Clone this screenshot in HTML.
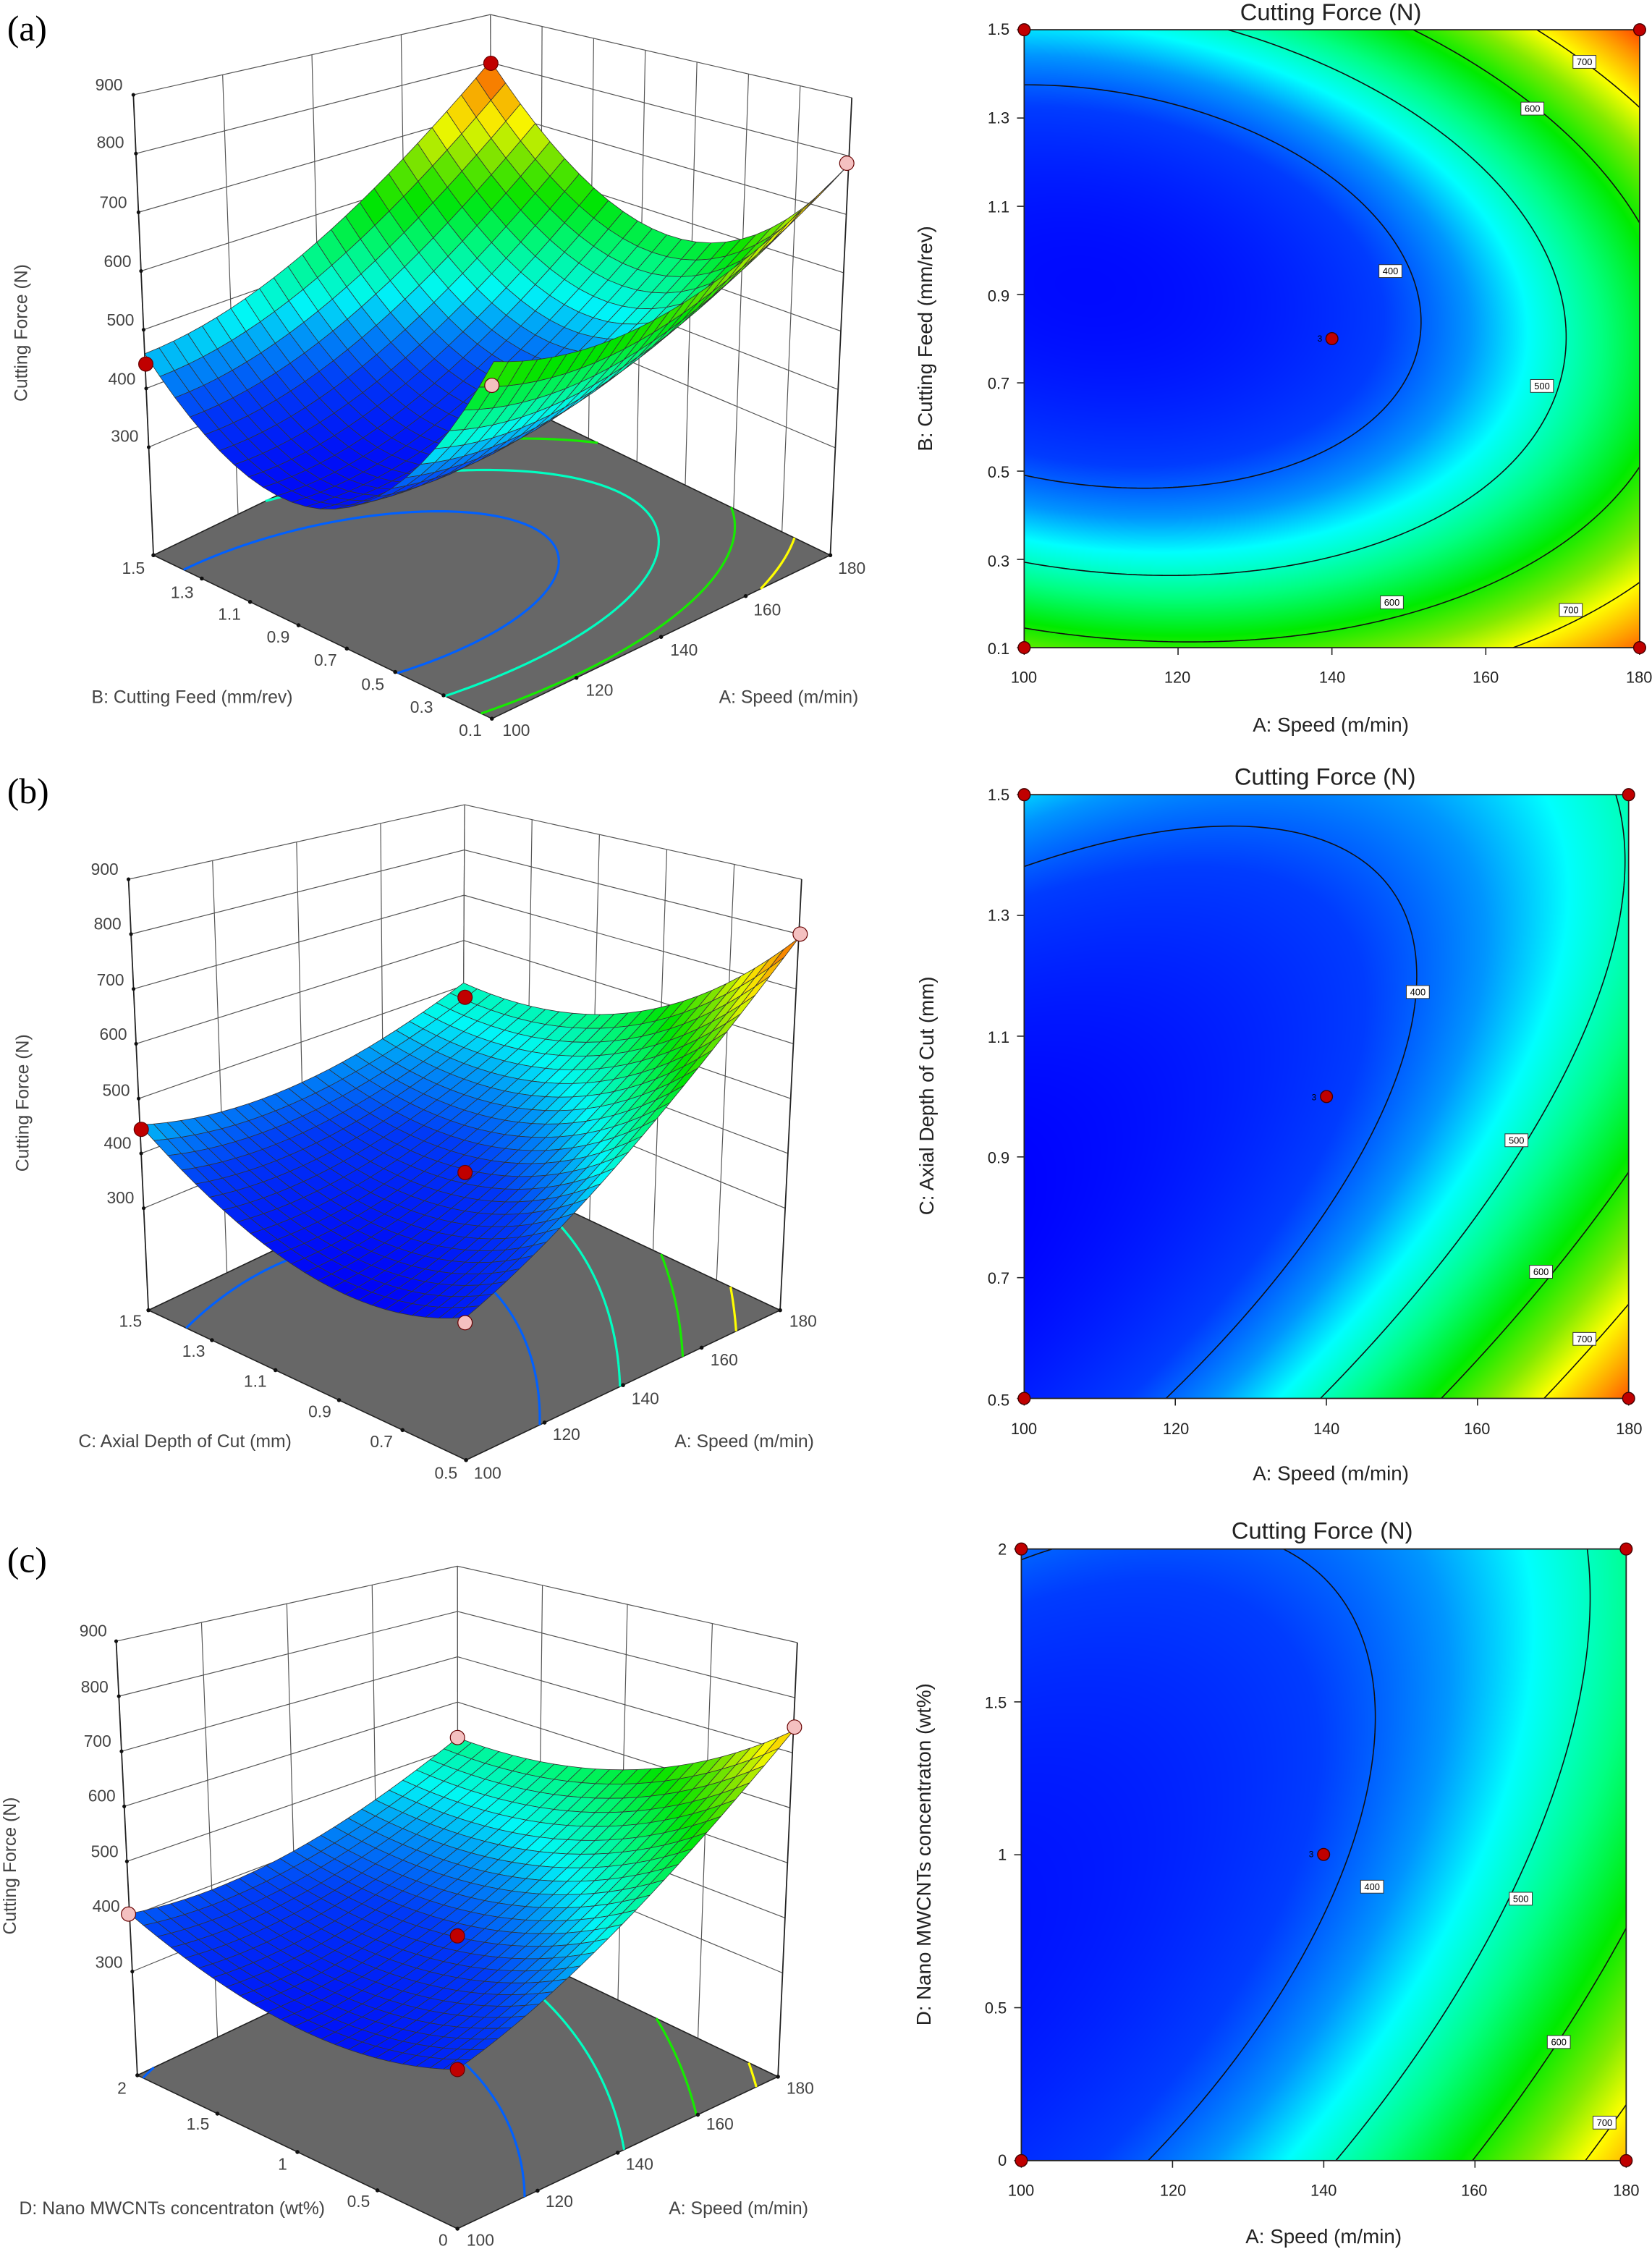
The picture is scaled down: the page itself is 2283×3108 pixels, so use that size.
<!DOCTYPE html>
<html><head><meta charset="utf-8">
<style>
html,body{margin:0;padding:0;background:#fff;}
#wrap{position:relative;width:2283px;height:3108px;overflow:hidden;background:#fff;}
canvas{position:absolute;}
svg{position:absolute;left:0;top:0;}
text{font-family:"Liberation Sans",sans-serif;}
</style></head>
<body><div id="wrap">
<canvas id="ca"></canvas><canvas id="cb"></canvas><canvas id="cc"></canvas>
<svg id="sv" width="2283" height="3108" viewBox="0 0 1152 1568" xmlns="http://www.w3.org/2000/svg">
<g id="g3a"></g><g id="g3b"></g><g id="g3c"></g>
<g id="g2a"></g><g id="g2b"></g><g id="g2c"></g>

<g font-family="Liberation Serif" font-size="25" fill="#000">
<text x="5" y="28" style="font-family:'Liberation Serif',serif">(a)</text>
<text x="5" y="560" style="font-family:'Liberation Serif',serif">(b)</text>
<text x="5" y="1096" style="font-family:'Liberation Serif',serif">(c)</text>
</g>

<g fill="#444" font-size="11.5">
<g text-anchor="middle">
<text x="76" y="63">900</text><text x="77" y="103">800</text><text x="79" y="145">700</text><text x="82" y="186">600</text><text x="84" y="227">500</text><text x="85" y="268">400</text><text x="87" y="308">300</text>
<text x="93" y="400">1.5</text><text x="127" y="417">1.3</text><text x="160" y="432">1.1</text><text x="194" y="448">0.9</text><text x="227" y="464">0.7</text><text x="260" y="481">0.5</text><text x="294" y="497">0.3</text><text x="328" y="513">0.1</text>
<text x="360" y="513">100</text><text x="418" y="485">120</text><text x="477" y="457">140</text><text x="535" y="429">160</text><text x="594" y="400">180</text>
<text x="134" y="490" font-size="12.5">B: Cutting Feed (mm/rev)</text>
<text x="550" y="490" font-size="12.5">A: Speed (m/min)</text>
<text transform="translate(19,232) rotate(-90)" font-size="12.5">Cutting Force (N)</text>
</g></g>

<g fill="#444" font-size="11.5" text-anchor="middle">
<text x="73" y="610">900</text><text x="75" y="648">800</text><text x="77" y="687">700</text><text x="79" y="725">600</text><text x="81" y="764">500</text><text x="82" y="801">400</text><text x="84" y="839">300</text>
<text x="91" y="925">1.5</text><text x="135" y="946">1.3</text><text x="178" y="967">1.1</text><text x="223" y="988">0.9</text><text x="266" y="1009">0.7</text><text x="311" y="1031">0.5</text>
<text x="340" y="1031">100</text><text x="395" y="1004">120</text><text x="450" y="979">140</text><text x="505" y="952">160</text><text x="560" y="925">180</text>
<text x="129" y="1009" font-size="12.5">C: Axial Depth of Cut (mm)</text>
<text x="519" y="1009" font-size="12.5">A: Speed (m/min)</text>
<text transform="translate(20,769) rotate(-90)" font-size="12.5">Cutting Force (N)</text>
</g>

<g fill="#444" font-size="11.5" text-anchor="middle">
<text x="65" y="1141">900</text><text x="66" y="1180">800</text><text x="68" y="1218">700</text><text x="71" y="1256">600</text><text x="73" y="1295">500</text><text x="74" y="1333">400</text><text x="76" y="1372">300</text>
<text x="85" y="1460">2</text><text x="138" y="1485">1.5</text><text x="197" y="1513">1</text><text x="250" y="1539">0.5</text><text x="309" y="1566">0</text>
<text x="335" y="1566">100</text><text x="390" y="1539">120</text><text x="446" y="1513">140</text><text x="502" y="1485">160</text><text x="558" y="1460">180</text>
<text x="120" y="1544" font-size="12.5">D: Nano MWCNTs concentraton (wt%)</text>
<text x="515" y="1544" font-size="12.5">A: Speed (m/min)</text>
<text transform="translate(11,1301) rotate(-90)" font-size="12.5">Cutting Force (N)</text>
</g>

<g fill="#222" text-anchor="middle">
<text x="928" y="14" font-size="16.5">Cutting Force (N)</text>
<text x="924" y="547" font-size="16.5">Cutting Force (N)</text>
<text x="922" y="1073" font-size="16.5">Cutting Force (N)</text>
<text x="928" y="510" font-size="14">A: Speed (m/min)</text>
<text x="928" y="1032" font-size="14">A: Speed (m/min)</text>
<text x="923" y="1564" font-size="14">A: Speed (m/min)</text>
<text transform="translate(650,236) rotate(-90)" font-size="14">B: Cutting Feed (mm/rev)</text>
<text transform="translate(651,764) rotate(-90)" font-size="14">C: Axial Depth of Cut (mm)</text>
<text transform="translate(649,1293) rotate(-90)" font-size="14">D: Nano MWCNTs concentraton (wt%)</text>
</g>
<g fill="#222" font-size="11">
<g text-anchor="end">
<text x="704" y="24">1.5</text><text x="704" y="86">1.3</text><text x="704" y="148">1.1</text><text x="704" y="210">0.9</text><text x="704" y="271">0.7</text><text x="704" y="333">0.5</text><text x="704" y="395">0.3</text><text x="704" y="456">0.1</text>
<text x="704" y="558">1.5</text><text x="704" y="642">1.3</text><text x="704" y="727">1.1</text><text x="704" y="811">0.9</text><text x="704" y="895">0.7</text><text x="704" y="980">0.5</text>
<text x="702" y="1084">2</text><text x="702" y="1191">1.5</text><text x="702" y="1297">1</text><text x="702" y="1404">0.5</text><text x="702" y="1510">0</text>
</g>
<g text-anchor="middle">
<text x="714" y="476">100</text><text x="821" y="476">120</text><text x="929" y="476">140</text><text x="1036" y="476">160</text><text x="1143" y="476">180</text>
<text x="714" y="1000">100</text><text x="820" y="1000">120</text><text x="925" y="1000">140</text><text x="1030" y="1000">160</text><text x="1136" y="1000">180</text>
<text x="712" y="1531">100</text><text x="818" y="1531">120</text><text x="923" y="1531">140</text><text x="1028" y="1531">160</text><text x="1134" y="1531">180</text>
</g></g>

<g font-size="6.5" text-anchor="middle" fill="#000">
<g id="lbls"></g>
</g>

<g stroke="#600" stroke-width="0.6">
<circle cx="101.7" cy="253.7" r="5" fill="#c00000"/><circle cx="342.3" cy="44" r="5" fill="#c00000"/>
<circle cx="590.5" cy="113.7" r="5" fill="#f4c0c0"/><circle cx="343" cy="268.6" r="5" fill="#f4c0c0"/>
<circle cx="98.5" cy="787.4" r="5" fill="#c00000"/><circle cx="324.3" cy="695.3" r="5" fill="#c00000"/>
<circle cx="324.3" cy="817.5" r="5" fill="#c00000"/><circle cx="558" cy="651.2" r="5" fill="#f4c0c0"/>
<circle cx="324.3" cy="922.2" r="5" fill="#f4c0c0"/>
<circle cx="89.6" cy="1334.6" r="5" fill="#f4c0c0"/><circle cx="319" cy="1211.5" r="5" fill="#f4c0c0"/>
<circle cx="319" cy="1349.8" r="5" fill="#c00000"/><circle cx="554" cy="1204.2" r="5" fill="#f4c0c0"/>
<circle cx="319" cy="1443" r="5" fill="#c00000"/>
</g>
<g stroke="#400" stroke-width="0.7" fill="#c00000">
<circle cx="714.2" cy="20.6" r="4.2"/><circle cx="1143.4" cy="20.6" r="4.2"/><circle cx="714.2" cy="451.5" r="4.2"/><circle cx="1143.4" cy="451.5" r="4.2"/><circle cx="928.8" cy="236" r="4.2"/>
<circle cx="714.2" cy="554" r="4.2"/><circle cx="1135.7" cy="554" r="4.2"/><circle cx="714.2" cy="975" r="4.2"/><circle cx="1135.7" cy="975" r="4.2"/><circle cx="925" cy="764.5" r="4.2"/>
<circle cx="712.2" cy="1080" r="4.2"/><circle cx="1134" cy="1080" r="4.2"/><circle cx="712.2" cy="1506.5" r="4.2"/><circle cx="1134" cy="1506.5" r="4.2"/><circle cx="923" cy="1293" r="4.2"/>
</g>
<g font-size="6" fill="#000" text-anchor="end">
<text x="922" y="238">3</text><text x="918" y="767">3</text><text x="916" y="1295">3</text>
</g>
</svg>
</div>
<script>
(function(){
const K=2283/1152, NS="http://www.w3.org/2000/svg";
const stops=[[290,0,0,255],[380,0,60,255],[430,0,150,255],[470,0,255,255],[530,0,255,130],[590,0,235,0],[650,130,235,0],[700,255,255,0],[760,255,150,0],[820,255,40,0]];
function cm(F){
 if(F<=stops[0][0])return [0,0,255];
 for(let i=1;i<stops.length;i++){if(F<=stops[i][0]){const a=stops[i-1],b=stops[i],t=(F-a[0])/(b[0]-a[0]);return [a[1]+(b[1]-a[1])*t,a[2]+(b[2]-a[2])*t,a[3]+(b[3]-a[3])*t];}}
 const l=stops[stops.length-1];return [l[1],l[2],l[3]];}
function rgb(c){return "rgb("+Math.round(c[0])+","+Math.round(c[1])+","+Math.round(c[2])+")";}
const fa=(u,v)=>305+320*(u-.1)*(u-.1)+920*Math.pow(v-.595+.105*u,2);
const fb=(u,v)=>335.6+218.6*u+238.5*u*u-247.6*v+364*v*v-403*u*v;
const fc=(u,v)=>357+158*u+225*u*u-193*v+241*v*v-267*u*v;
function el(tag,attrs,parent){const e=document.createElementNS(NS,tag);for(const k in attrs)e.setAttribute(k,attrs[k]);parent.appendChild(e);return e;}
function march(f,level,N,map){
 let d="";const G=[];
 for(let i=0;i<=N;i++){G[i]=[];for(let j=0;j<=N;j++)G[i][j]=f(i/N,j/N);}
 for(let i=0;i<N;i++)for(let j=0;j<N;j++){
  const c=[[i,j],[i+1,j],[i+1,j+1],[i,j+1]];const pts=[];
  for(let k=0;k<4;k++){const p=c[k],q=c[(k+1)%4];const a=G[p[0]][p[1]],b=G[q[0]][q[1]];
   if((a-level)*(b-level)<0){const t=(level-a)/(b-a);const u=(p[0]+(q[0]-p[0])*t)/N,v=(p[1]+(q[1]-p[1])*t)/N;pts.push(map(u,v));}}
  if(pts.length>=2)d+="M"+pts[0][0].toFixed(2)+" "+pts[0][1].toFixed(2)+"L"+pts[1][0].toFixed(2)+" "+pts[1][1].toFixed(2);
  if(pts.length==4)d+="M"+pts[2][0].toFixed(2)+" "+pts[2][1].toFixed(2)+"L"+pts[3][0].toFixed(2)+" "+pts[3][1].toFixed(2);
 }return d;}
function plot2(cid,gid,x0,y0,x1,y1,f,vt,ut){
 const c=document.getElementById(cid);const W=Math.round((x1-x0)*K),H=Math.round((y1-y0)*K);
 c.width=W;c.height=H;c.style.left=(x0*K)+"px";c.style.top=(y0*K)+"px";c.style.width=W+"px";c.style.height=H+"px";
 const ctx=c.getContext("2d");const im=ctx.createImageData(W,H);
 for(let py=0;py<H;py++){const v=1-(py+.5)/H;for(let px=0;px<W;px++){const u=(px+.5)/W;const col=cm(f(u,v));const o=(py*W+px)*4;im.data[o]=col[0];im.data[o+1]=col[1];im.data[o+2]=col[2];im.data[o+3]=255;}}
 ctx.putImageData(im,0,0);
 const g=document.getElementById(gid);const map=(u,v)=>[x0+u*(x1-x0),y1-v*(y1-y0)];
 for(const L of [400,500,600,700,800]){const d=march(f,L,120,map);if(d)el("path",{d:d,stroke:"#111",fill:"none","stroke-width":"0.8"},g);}
 el("rect",{x:x0,y:y0,width:x1-x0,height:y1-y0,fill:"none",stroke:"#222","stroke-width":"0.9"},g);
 for(const v of vt){const y=y1-v*(y1-y0);el("line",{x1:x0-5,y1:y,x2:x0,y2:y,stroke:"#222","stroke-width":"0.8"},g);}
 for(const u of ut){const x=x0+u*(x1-x0);el("line",{x1:x,y1:y1,x2:x,y2:y1+5,stroke:"#222","stroke-width":"0.8"},g);}
}
plot2("ca","g2a",714.2,20.6,1143.4,451.5,fa,[0,1/7,2/7,3/7,4/7,5/7,6/7,1],[0,.25,.5,.75,1]);
plot2("cb","g2b",714.2,554,1135.7,975,fb,[0,.2,.4,.6,.8,1],[0,.25,.5,.75,1]);
plot2("cc","g2c",712.2,1080,1134,1506.5,fc,[0,.25,.5,.75,1],[0,.25,.5,.75,1]);
const lg=document.getElementById("lbls");
const labs=[[969.6,188.9,400],[1075.3,269,500],[1068.6,75.6,600],[970.6,419.9,600],[1104.9,43,700],[1095.4,425.2,700],
[988.7,691.6,400],[1057.5,795,500],[1074.6,886.7,600],[1104.9,933.5,700],
[956.8,1315.5,400],[1060.5,1323.9,500],[1087,1423.8,600],[1118.9,1480,700]];
for(const l of labs){el("rect",{x:l[0]-8,y:l[1]-4.5,width:16,height:9,fill:"#fff",stroke:"#333","stroke-width":"0.5"},lg);const t=el("text",{x:l[0],y:l[1]+2.3},lg);t.textContent=l[2];}
function plot3(gid,Fc,Tc,zf,f,ut,vt){
 const g=document.getElementById(gid);
 const bil=(A,u,v)=>[A[0][0]*(1-u)*(1-v)+A[1][0]*u*(1-v)+A[2][0]*(1-u)*v+A[3][0]*u*v, A[0][1]*(1-u)*(1-v)+A[1][1]*u*(1-v)+A[2][1]*(1-u)*v+A[3][1]*u*v];
 const P=(u,v,z)=>{const a=bil(Fc,u,v),b=bil(Tc,u,v),t=(z-zf)/(900-zf);return [a[0]+(b[0]-a[0])*t,a[1]+(b[1]-a[1])*t];};
 const pp=a=>a.map(p=>p[0].toFixed(2)+","+p[1].toFixed(2)).join(" ");
 const ln=(a,b,c,w)=>el("line",{x1:a[0],y1:a[1],x2:b[0],y2:b[1],stroke:c,"stroke-width":w},g);
 for(const z of [300,400,500,600,700,800,900]){ln(P(0,1,z),P(1,1,z),"#555",.6);ln(P(1,1,z),P(1,0,z),"#555",.6);}
 for(const u of ut){ln(P(u,1,zf),P(u,1,900),"#555",.6);}
 for(const v of vt){ln(P(1,v,zf),P(1,v,900),"#555",.6);}
 ln(P(0,1,zf),P(0,1,900),"#222",.9);ln(P(1,0,zf),P(1,0,900),"#222",.9);
 for(const z of [300,400,500,600,700,800,900]){const p=P(0,1,z);el("circle",{cx:p[0],cy:p[1],r:1.3,fill:"#111"},g);}
 el("polygon",{points:pp([P(0,0,zf),P(1,0,zf),P(1,1,zf),P(0,1,zf)]),fill:"#676767",stroke:"#222","stroke-width":"0.8"},g);
 for(const L of [400,500,600,700,800]){const d=march(f,L,80,(u,v)=>P(u,v,zf));if(d)el("path",{d:d,stroke:rgb(cm(L)),fill:"none","stroke-width":"1.6"},g);}
 for(const v of vt){const p=P(0,v,zf);el("circle",{cx:p[0],cy:p[1],r:1.4,fill:"#111"},g);}
 for(const u of ut){const p=P(u,0,zf);el("circle",{cx:p[0],cy:p[1],r:1.4,fill:"#111"},g);}
 const N=24,cells=[];
 for(let i=0;i<N;i++)for(let j=0;j<N;j++)cells.push([i,j]);
 cells.sort((a,b)=>(b[0]+b[1])-(a[0]+a[1]));
 const sg=el("g",{stroke:"#333","stroke-width":"0.4","stroke-linejoin":"round"},g);
 for(const c of cells){const u0=c[0]/N,u1=(c[0]+1)/N,v0=c[1]/N,v1=(c[1]+1)/N;
  const pts=[P(u0,v0,f(u0,v0)),P(u1,v0,f(u1,v0)),P(u1,v1,f(u1,v1)),P(u0,v1,f(u0,v1))];
  const col=cm(f((u0+u1)/2,(v0+v1)/2));const sh=0.97;
  el("polygon",{points:pp(pts),fill:rgb([col[0]*sh,col[1]*sh,col[2]*sh])},sg);}
}
plot3("g3a",[[343,501],[579,387],[107,387],[343,273]],[[345,124],[594,68],[93,66],[342,10]],116,fa,[0,.25,.5,.75,1],[1/7,2/7,3/7,4/7,5/7,6/7,1]);
plot3("g3b",[[325,1018],[544,913.5],[103.5,913.5],[322.5,809]],[[324.6,665],[559,613],[89.6,613],[324,561]],114,fb,[0,.25,.5,.75,1],[.2,.4,.6,.8,1]);
plot3("g3c",[[319,1554],[542.5,1448],[95.8,1447],[319.3,1341]],[[318,1197.6],[556,1145.3],[81,1144.3],[319,1092]],111.5,fc,[0,.25,.5,.75,1],[.25,.5,.75,1]);
})();
</script>
</body></html>
